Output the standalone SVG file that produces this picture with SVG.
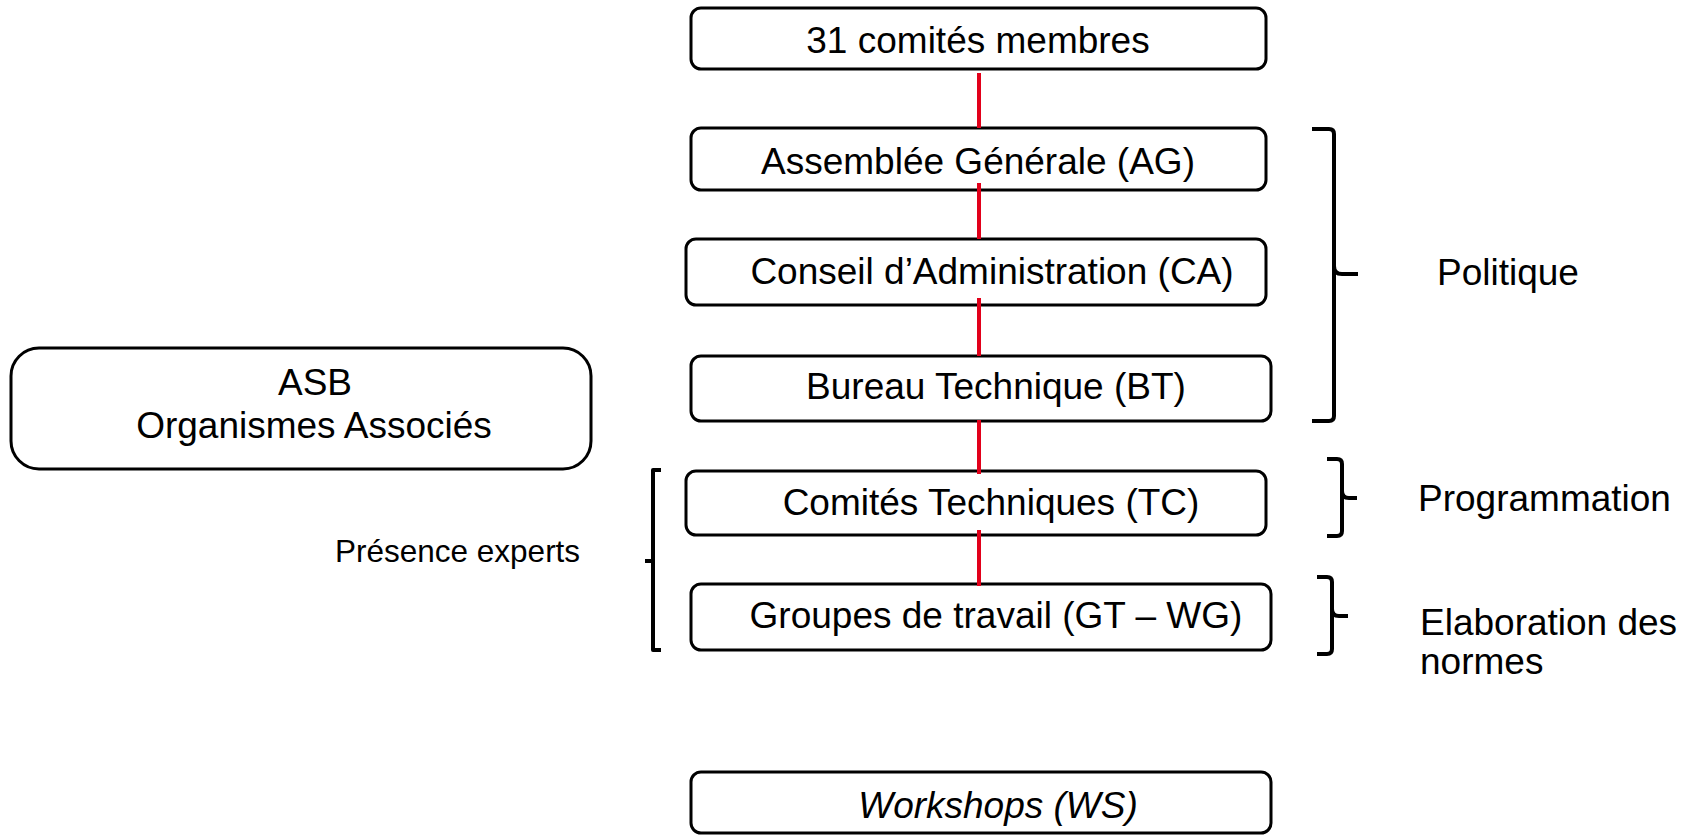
<svg xmlns="http://www.w3.org/2000/svg" width="1694" height="836" viewBox="0 0 1694 836">
  <style>
    .box { fill: #ffffff; stroke: #000000; stroke-width: 3; }
    .lbl { font-family: "Liberation Sans", Arial, sans-serif; font-size: 37px; fill: #000000; }
    .mid { text-anchor: middle; }
    .small { font-size: 31.5px; }
    .link { stroke: #e2001a; stroke-width: 4; fill: none; }
    .brace { stroke: #000000; stroke-width: 4; fill: none; stroke-linecap: butt; stroke-linejoin: round; }
  </style>

  <rect width="1694" height="836" fill="#ffffff"/>

  <!-- hierarchy boxes -->
  <g id="membres">
    <rect class="box" x="691" y="8" width="575" height="61" rx="10"/>
    <text class="lbl mid" x="978" y="53">31 comités membres</text>
  </g>
  <g id="ag">
    <rect class="box" x="691" y="128" width="575" height="62" rx="10"/>
    <text class="lbl mid" x="978" y="174">Assemblée Générale (AG)</text>
  </g>
  <g id="ca">
    <rect class="box" x="686" y="239" width="580" height="66" rx="10"/>
    <text class="lbl mid" x="992" y="284">Conseil d’Administration (CA)</text>
  </g>
  <g id="bt">
    <rect class="box" x="691" y="356" width="580" height="65" rx="10"/>
    <text class="lbl mid" x="996" y="399">Bureau Technique (BT)</text>
  </g>
  <g id="tc">
    <rect class="box" x="686" y="471" width="580" height="64" rx="10"/>
    <text class="lbl mid" x="991" y="515">Comités Techniques (TC)</text>
  </g>
  <g id="gt">
    <rect class="box" x="691" y="584" width="580" height="66" rx="10"/>
    <text class="lbl mid" x="996" y="628">Groupes de travail (GT – WG)</text>
  </g>
  <g id="ws">
    <rect class="box" x="691" y="772" width="580" height="61" rx="10"/>
    <text class="lbl mid" x="998" y="818" font-style="italic">Workshops (WS)</text>
  </g>

  <g id="asb">
    <rect class="box" x="11" y="348" width="580" height="121" rx="28"/>
    <text class="lbl mid" x="315" y="395">ASB</text>
    <text class="lbl mid" x="314" y="438">Organismes Associés</text>
  </g>

  <!-- red vertical links between levels -->
  <g id="connectors">
    <line class="link" x1="979" y1="73" x2="979" y2="128"/>
    <line class="link" x1="979" y1="183" x2="979" y2="239"/>
    <line class="link" x1="979" y1="298" x2="979" y2="356"/>
    <line class="link" x1="979" y1="420" x2="979" y2="474"/>
    <line class="link" x1="979" y1="530" x2="979" y2="586"/>
  </g>

  <!-- right-hand braces and labels -->
  <g id="politique">
    <path class="brace" d="M1312 129 L1329 129 Q1334 129 1334 134 L1334 266 Q1334 274 1342 274 L1358 274 M1334 266 Q1334 274 1334 282 L1334 416 Q1334 421 1329 421 L1312 421"/>
    <text class="lbl" x="1437" y="285">Politique</text>
  </g>
  <g id="programmation">
    <path class="brace" d="M1327 459 L1337 459 Q1342 459 1342 464 L1342 491 Q1342 498 1349 498 L1357 498 M1342 491 Q1342 498 1342 505 L1342 531 Q1342 536 1337 536 L1327 536"/>
    <text class="lbl" x="1418" y="511">Programmation</text>
  </g>
  <g id="elaboration">
    <path class="brace" d="M1317 577 L1327 577 Q1332 577 1332 582 L1332 609 Q1332 616 1339 616 L1348 616 M1332 609 Q1332 616 1332 623 L1332 649 Q1332 654 1327 654 L1317 654"/>
    <text class="lbl" x="1420" y="635">Elaboration des</text>
    <text class="lbl" x="1420" y="674">normes</text>
  </g>

  <!-- left bracket for expert presence -->
  <g id="experts">
    <path class="brace" d="M661 470 L653 470 L653 650 L661 650 M653 561 L645 561"/>
    <text class="lbl small" x="335" y="562">Présence experts</text>
  </g>
</svg>
